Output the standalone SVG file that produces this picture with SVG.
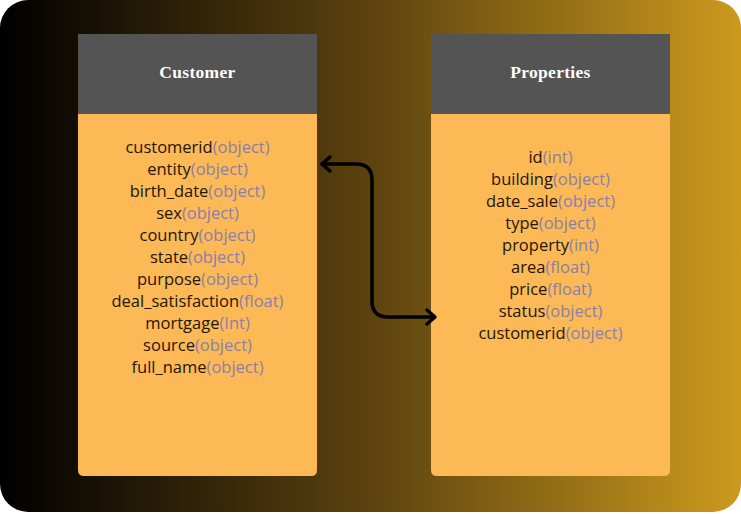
<svg xmlns="http://www.w3.org/2000/svg" width="741" height="514" viewBox="0 0 741 514">
<defs>
<linearGradient id="bg" x1="0" y1="0" x2="1" y2="0">
<stop offset="0" stop-color="#000000"/>
<stop offset="0.5" stop-color="#5c420f"/>
<stop offset="1" stop-color="#cc9a1d"/>
</linearGradient>
<style>
.hdr{fill:#545454}
.body{fill:#fdb955}
.title{font-family:"Liberation Serif",serif;font-weight:bold;font-size:17.5px;fill:#ffffff;text-anchor:middle;letter-spacing:0.3px}
.row{font-family:"Open Sans","Liberation Sans",sans-serif;font-size:16.5px;fill:#24160a;text-anchor:middle}
.t{fill:#8a80a6}
.conn{fill:none;stroke:#000;stroke-width:3.5;stroke-linecap:round;stroke-linejoin:round}
</style>
</defs>
<rect x="0" y="0" width="741" height="512" rx="28" fill="url(#bg)"/>
<g id="customer">
<path class="body" d="M78 114 H317 V470 Q317 476 311 476 H84 Q78 476 78 470 Z"/>
<rect class="hdr" x="78" y="34" width="239" height="80"/>
<text class="title" x="197.5" y="78">Customer</text>
<text class="row" x="197.5" y="153">customerid<tspan class="t">(object)</tspan></text>
<text class="row" x="197.5" y="175">entity<tspan class="t">(object)</tspan></text>
<text class="row" x="197.5" y="197">birth_date<tspan class="t">(object)</tspan></text>
<text class="row" x="197.5" y="219">sex<tspan class="t">(object)</tspan></text>
<text class="row" x="197.5" y="241">country<tspan class="t">(object)</tspan></text>
<text class="row" x="197.5" y="263">state<tspan class="t">(object)</tspan></text>
<text class="row" x="197.5" y="285">purpose<tspan class="t">(object)</tspan></text>
<text class="row" x="197.5" y="307">deal_satisfaction<tspan class="t">(float)</tspan></text>
<text class="row" x="197.5" y="329">mortgage<tspan class="t">(Int)</tspan></text>
<text class="row" x="197.5" y="351">source<tspan class="t">(object)</tspan></text>
<text class="row" x="197.5" y="373">full_name<tspan class="t">(object)</tspan></text>
</g>
<g id="properties">
<path class="body" d="M431 114 H670 V470 Q670 476 664 476 H437 Q431 476 431 470 Z"/>
<rect class="hdr" x="431" y="34" width="239" height="80"/>
<text class="title" x="550.5" y="78">Properties</text>
<text class="row" x="550.5" y="163">id<tspan class="t">(int)</tspan></text>
<text class="row" x="550.5" y="185">building<tspan class="t">(object)</tspan></text>
<text class="row" x="550.5" y="207">date_sale<tspan class="t">(object)</tspan></text>
<text class="row" x="550.5" y="229">type<tspan class="t">(object)</tspan></text>
<text class="row" x="550.5" y="251">property<tspan class="t">(int)</tspan></text>
<text class="row" x="550.5" y="273">area<tspan class="t">(float)</tspan></text>
<text class="row" x="550.5" y="295">price<tspan class="t">(float)</tspan></text>
<text class="row" x="550.5" y="317">status<tspan class="t">(object)</tspan></text>
<text class="row" x="550.5" y="339">customerid<tspan class="t">(object)</tspan></text>
</g>
<g id="connectors">
<path class="conn" d="M322 164 H356 Q372 164 372 180 V301 Q372 317 388 317 H434"/>
<path class="conn" d="M330 157 L322 164 L330 171"/>
<path class="conn" d="M427 310 L435 317 L427 324"/>
</g>
</svg>
